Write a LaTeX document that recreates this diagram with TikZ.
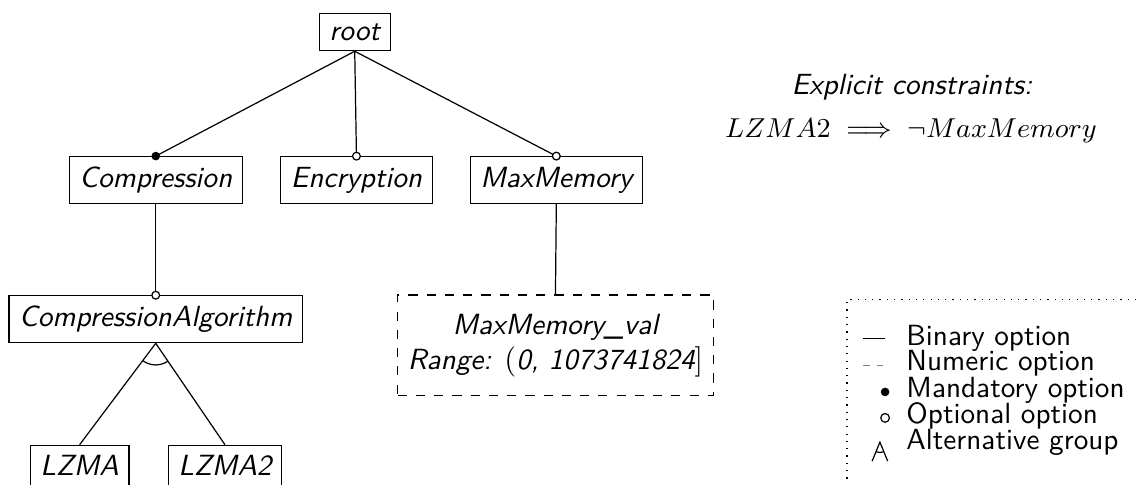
\documentclass[tikz,border=0pt]{standalone}
\usepackage{amsmath}
\usetikzlibrary{positioning}
\newcommand{\treefont}{\fontsize{9.6}{11.5}\selectfont}
\begin{document}
\begin{tikzpicture}[
	feat/.style={draw, font=\treefont\sffamily\itshape},
	numfeat/.style={draw, dashed, font=\treefont\sffamily\itshape, align=center, minimum width=3.62cm, minimum height=1.16cm},
	optdot/.style={draw, fill=white},
	mandot/.style={fill=black},
	legtext/.style={anchor=base west, font=\treefont\sffamily, inner sep=0pt}]
	\useasboundingbox (0,0) rectangle (13.13,-5.595);

	% feature tree
	\node[feat] (root) at (4.10,-.37) {root};
	\node[feat] (comp) at (1.80,-2.08) {Compression};
	\node[feat] (enc) at (4.12,-2.08) {Encryption};
	\node[feat] (maxmem) at (6.43,-2.08) {MaxMemory};
	\node[feat] (alg) at (1.80,-3.69) {CompressionAlgorithm};
	\node[feat, anchor=north] (lzma) at (.92,-5.14) {LZMA};
	\node[feat, anchor=north] (lzmatwo) at (2.60,-5.14) {LZMA2};
	\node[numfeat] (maxval) at (6.42,-3.99) {MaxMemory\_val\\Range: $($0, 1073741824$]$};

	\draw (root.south)--(comp.north);
	\draw (root.south)--(enc.north);
	\draw (root.south)--(maxmem.north);
	\draw (comp.south)--(alg.north);
	\draw (maxmem.south)--(maxval.north);
	\draw (alg.south)--(lzma.north);
	\draw (alg.south)--(lzmatwo.north);

	\fill[mandot] (comp.north) circle (.05);
	\draw[optdot] (enc.north) circle (.045);
	\draw[optdot] (maxmem.north) circle (.045);
	\draw[optdot] (alg.north) circle (.045);

	% alternative group arc
	\begin{scope}
		\clip (alg.south)--(lzma.north)--(lzmatwo.north)--cycle;
		\draw (alg.south) circle (.25);
	\end{scope}

	% constraints
	\node[font=\treefont\sffamily\itshape] (expl) at (10.54,-1.01) {Explicit constraints:};
	\node[font=\fontsize{8.9}{10.5}\selectfont] (cons) at (10.53,-1.51) {$LZMA2 \implies \neg MaxMemory$};

	% legend
	\draw[dotted] (13.3,-3.46)--(9.79,-3.46)--(9.79,-5.7);
	\node[legtext] (lbin) at (10.47,-3.99) {Binary option};
	\node[legtext] (lnum) at (10.47,-4.28) {Numeric option};
	\node[legtext] (lman) at (10.47,-4.59) {Mandatory option};
	\node[legtext] (lopt) at (10.47,-4.89) {Optional option};
	\node[legtext] (lalt) at (10.47,-5.20) {Alternative group};
	\draw (9.98,-3.91)--(10.23,-3.91);
	\draw[gray, dash pattern=on 2pt off 2.5pt] (9.98,-4.22)--(10.23,-4.22);
	\fill[mandot] (10.23,-4.53) circle (.05);
	\draw (10.23,-4.83) circle (.05);
	\coordinate (altop) at (10.17,-5.11);
	\draw (10.08,-5.33)--(altop)--(10.26,-5.33);
	\begin{scope}
		\clip (altop)--(10.08,-5.33)--(10.26,-5.33)--cycle;
		\draw (altop) circle (.12);
	\end{scope}
\end{tikzpicture}
\end{document}
